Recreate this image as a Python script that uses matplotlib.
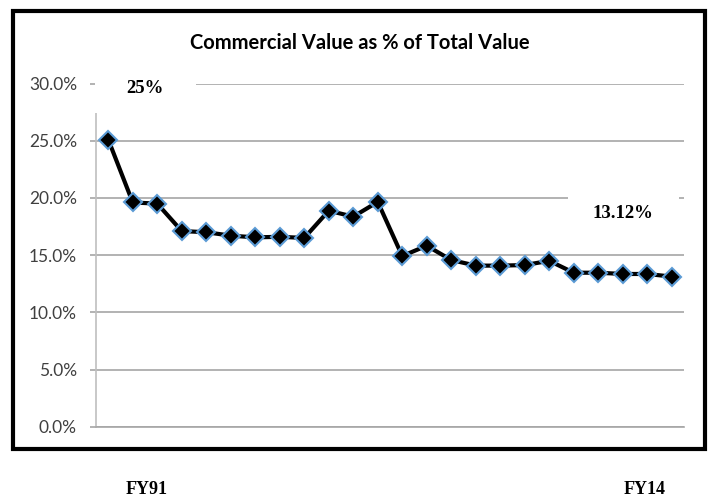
import matplotlib
matplotlib.use("Agg")
import matplotlib.pyplot as plt
from matplotlib.patches import Rectangle
from matplotlib.ticker import FuncFormatter

years = ["FY91", "FY92", "FY93", "FY94", "FY95", "FY96", "FY97", "FY98", "FY99", "FY00",
         "FY01", "FY02", "FY03", "FY04", "FY05", "FY06", "FY07", "FY08", "FY09", "FY10",
         "FY11", "FY12", "FY13", "FY14"]
values = [25.1, 19.6, 19.5, 17.1, 17.0, 16.7, 16.55, 16.6, 16.5, 18.88,
          18.36, 19.65, 14.92, 15.82, 14.57, 14.08, 14.08, 14.13, 14.5, 13.46,
          13.46, 13.35, 13.35, 13.12]
yticks = [0, 5, 10, 15, 20, 25, 30]
title = "Commercial Value as % of Total Value"

fig = plt.figure(figsize=(7.12, 5.01), dpi=100)
ax = fig.add_axes([96/712, 1 - 426.7/501, (684-96)/712, (426.7-83.5)/501])

x = list(range(len(years)))
ax.plot(x, values, color="black", lw=3, zorder=4,
        marker="D", markersize=9, markerfacecolor="black",
        markeredgecolor="#5B9BD5", markeredgewidth=1.5)

ax.set_xlim(-0.5, len(years) - 0.5)
ax.set_ylim(0, 30)
ax.set_yticks(yticks)
ax.yaxis.set_major_formatter(FuncFormatter(lambda v, p: f"{v:.1f}%"))
ax.set_xticks([])
ax.grid(axis="y", color="#A6A6A6", lw=1.2, zorder=1)
for s in ["top", "right"]:
    ax.spines[s].set_visible(False)
ax.spines["left"].set_color("#BFBFBF")
ax.spines["bottom"].set_color("#A6A6A6")
ax.spines["left"].set_linewidth(1.2)
ax.spines["bottom"].set_linewidth(1.2)
ax.tick_params(axis="y", length=4.3, width=1.2, color="#A6A6A6", pad=9.4,
               labelsize=12.5, labelcolor="#404040")
for lab in ax.get_yticklabels():
    lab.set_family("Lato")

fig.text(360/712, 1 - 43/501, title, ha="center", va="center",
         fontsize=14.5, fontweight="bold", family="Lato")

# white boxes hiding gridlines behind the annotations
ax.add_patch(Rectangle((-0.56, 27.45), 4.16, 3.5, fc="white", ec="none",
                       zorder=3, clip_on=False))
ax.add_patch(Rectangle((18.78, 17.4), 4.5, 3.0, fc="white", ec="none", zorder=3))

ax.text(1.5, 29.6, f"{values[0]:.0f}%", ha="center", va="center",
        fontsize=13.5, fontweight="bold", family="Liberation Serif", zorder=5,
        clip_on=False)
ax.text(21.0, 18.6, f"{values[-1]:.2f}%", ha="center", va="center",
        fontsize=13.5, fontweight="bold", family="Liberation Serif", zorder=5)

fig.text(147/712, 1 - 490/501, years[0], ha="center", va="center",
         fontsize=13, fontweight="bold", family="Liberation Serif")
fig.text(645/712, 1 - 490/501, years[-1], ha="center", va="center",
         fontsize=13, fontweight="bold", family="Liberation Serif")

fig.patches.append(Rectangle((13/712, 1 - 449/501), (705-13)/712, (449-11)/501,
                             transform=fig.transFigure, fill=False, ec="black", lw=3))

fig.savefig("out.png", dpi=100)
